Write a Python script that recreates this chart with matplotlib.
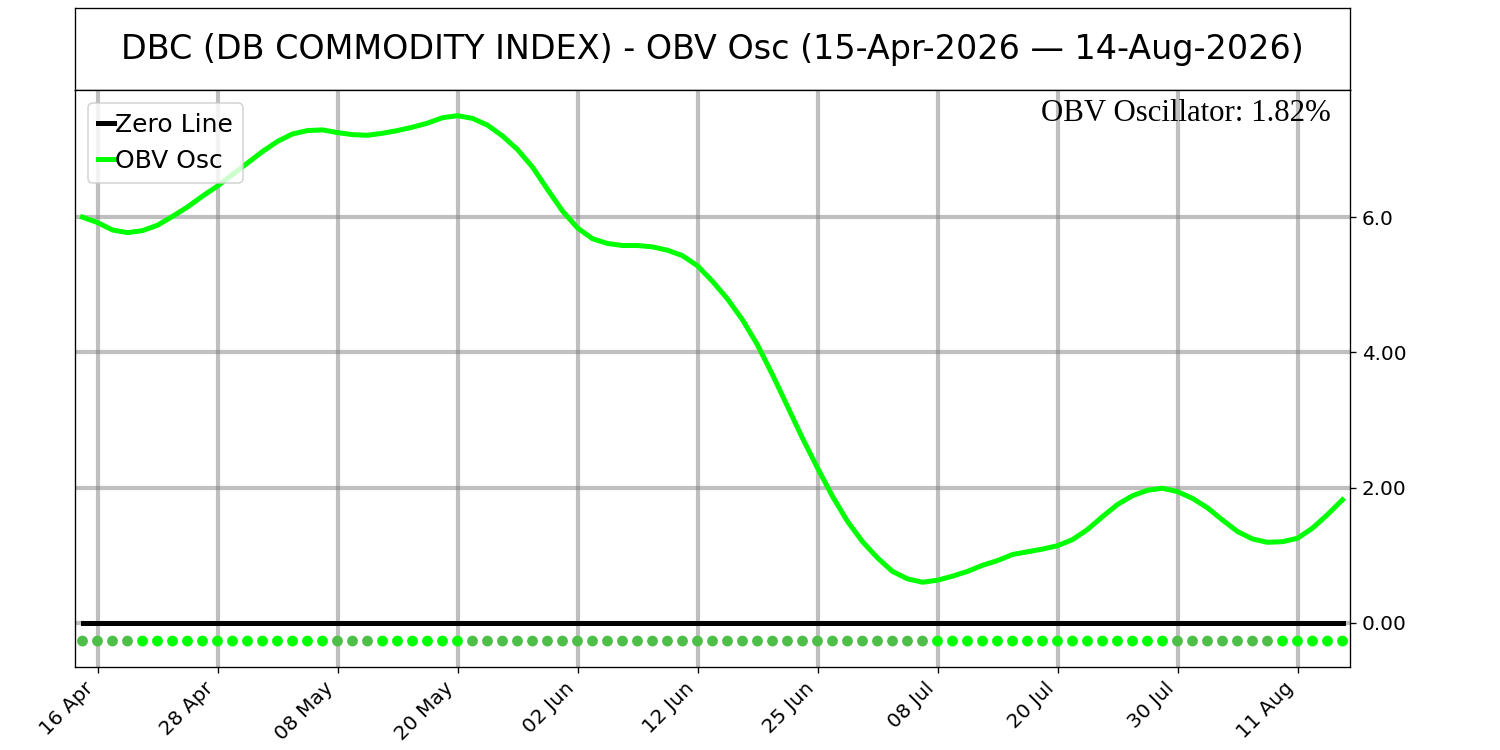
import matplotlib
matplotlib.use("Agg")
import matplotlib.pyplot as plt
import numpy as np

title = "DBC (DB COMMODITY INDEX) - OBV Osc (15-Apr-2026 \u2014 14-Aug-2026)"
tick_idx = [1, 9, 17, 25, 33, 41, 49, 57, 65, 73, 81]
tick_labels = ["16 Apr", "28 Apr", "08 May", "20 May", "02 Jun", "12 Jun",
               "25 Jun", "08 Jul", "20 Jul", "30 Jul", "11 Aug"]
ytick_vals = [0, 2, 4, 6]
ytick_labels = ["0.00", "2.00", "4.00", "6.0"]

obv_osc = [6.00, 5.92, 5.81, 5.77, 5.80, 5.88, 6.01, 6.15, 6.31, 6.46,
           6.63, 6.80, 6.97, 7.12, 7.23, 7.28, 7.29, 7.25, 7.22, 7.21,
           7.24, 7.28, 7.33, 7.39, 7.47, 7.50, 7.46, 7.36, 7.20, 7.00,
           6.74, 6.41, 6.09, 5.84, 5.68, 5.61, 5.58, 5.58, 5.56, 5.51,
           5.43, 5.28, 5.05, 4.79, 4.48, 4.11, 3.67, 3.20, 2.73, 2.29,
           1.87, 1.50, 1.20, 0.96, 0.76, 0.65, 0.60, 0.63, 0.69, 0.76,
           0.85, 0.92, 1.01, 1.05, 1.09, 1.14, 1.23, 1.38, 1.57, 1.75,
           1.88, 1.96, 1.99, 1.94, 1.84, 1.70, 1.52, 1.35, 1.24, 1.19,
           1.20, 1.25, 1.40, 1.60, 1.82]
dot_level = -0.27
current_text = "OBV Oscillator: 1.82%"

x = np.arange(len(obv_osc))
vals = np.array(obv_osc)
rising = np.concatenate([[False], np.diff(vals) > 0])

fig = plt.figure(figsize=(12.5, 6.25), dpi=120)
tax = fig.add_axes([0.05, 0.88, 0.85, 0.109])
tax.set_xticks([]); tax.set_yticks([])
tax.text(0.5, 0.5, title, ha="center", va="center", fontsize=20,
         transform=tax.transAxes)

ax = fig.add_axes([0.05, 0.111, 0.85, 0.769])
ax.plot(x, np.zeros_like(vals), color="black", lw=3, label="Zero Line", zorder=3)
ax.plot(x, vals, color="#00ff00", lw=3, label="OBV Osc", zorder=4)
cols = np.where(rising, "#00ff00", "#4dbe48")
ax.scatter(x, np.full(len(x), dot_level), c=cols, s=42, zorder=3, linewidths=0)

ax.set_xlim(-0.5, len(x) - 0.5)
ax.set_ylim(-0.65, 7.88)
ax.yaxis.tick_right()
ax.set_yticks(ytick_vals)
ax.set_yticklabels(ytick_labels, fontsize=12)
ax.set_xticks(tick_idx)
ax.set_xticklabels(tick_labels, rotation=45, ha="right", fontsize=12)
ax.grid(True, color="gray", alpha=0.5, lw=2.5)
ax.set_axisbelow(True)
ax.legend(loc="upper left", fontsize=15, handlelength=0.65, handletextpad=0.05,
          borderpad=0.4, labelspacing=0.5, borderaxespad=0.5)
ax.text(0.985, 0.985, current_text, transform=ax.transAxes, ha="right", va="top",
        fontsize=18.5, family=["Liberation Serif", "DejaVu Serif"])

fig.savefig("out.png", dpi=120)
